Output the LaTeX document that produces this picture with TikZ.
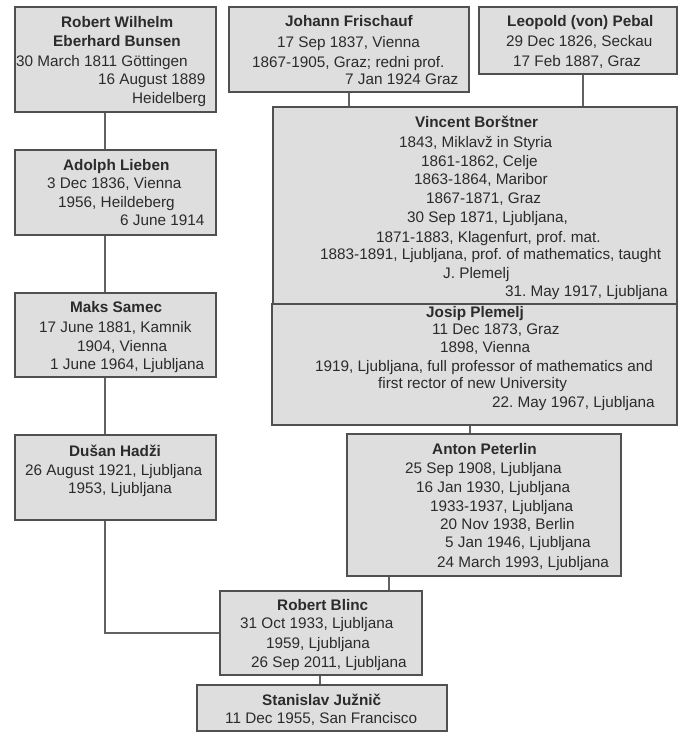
\documentclass[tikz,border=0pt]{standalone}
\usepackage{fontspec}
\setmainfont{Liberation Sans}
\frenchspacing
\definecolor{boxfill}{HTML}{DEDEDE}
\definecolor{boxline}{HTML}{505050}
\definecolor{connline}{HTML}{626262}
\definecolor{txtcol}{HTML}{2B2B2B}
\newcommand\tl[4]{\node[txt] (#1) at (#2,#3+5) {#4};}
\begin{document}
\begin{tikzpicture}[x=1pt,y=-1pt,
  box/.style={draw=boxline,fill=boxfill,line width=1.3pt,inner sep=0pt,rectangle},
  conn/.style={draw=connline,line width=1.1pt},
  txt/.style={inner sep=0pt,text=txtcol,font=\fontsize{15.3}{18}\selectfont\frenchspacing,anchor=base west}]
\useasboundingbox (0,0) rectangle (678,733);
% boxes
\node[box,minimum width=201pt,minimum height=105pt] (bunsen) at (115.5,59.5) {};
\node[box,minimum width=240pt,minimum height=85pt] (frisch) at (349,49.5) {};
\node[box,minimum width=198pt,minimum height=67pt] (pebal) at (578,40.5) {};
\node[box,minimum width=404pt,minimum height=197pt] (vb) at (475,205.5) {};
\node[box,minimum width=405pt,minimum height=121pt] (plem) at (474.5,364.5) {};
\node[box,minimum width=201pt,minimum height=85pt] (lieben) at (115.5,192.5) {};
\node[box,minimum width=201pt,minimum height=84pt] (samec) at (115.5,335) {};
\node[box,minimum width=201pt,minimum height=85pt] (dusan) at (115.5,477.5) {};
\node[box,minimum width=274pt,minimum height=142pt] (peter) at (484,505) {};
\node[box,minimum width=202pt,minimum height=84pt] (blinc) at (321,633) {};
\node[box,minimum width=250pt,minimum height=46pt] (juznic) at (322,708) {};
% connectors
\draw[conn] ([xshift=-10.5pt]bunsen.south) -- ([xshift=-10.5pt]lieben.north);
\draw[conn] ([xshift=-10.5pt]lieben.south) -- ([xshift=-10.5pt]samec.north);
\draw[conn] ([xshift=-10.5pt]samec.south) -- ([xshift=-10.5pt]dusan.north);
\draw[conn] ([xshift=-10.5pt]dusan.south) |- (blinc.west);
\draw[conn] (frisch.south) -- (frisch.south |- vb.north);
\draw[conn] ([xshift=5pt]pebal.south) -- ([xshift=5pt]pebal.south |- vb.north);
\draw[conn] ([xshift=-4.5pt]plem.south) -- ([xshift=-4.5pt]plem.south |- peter.north);
\draw[conn] ([xshift=-95pt]peter.south) -- ([xshift=-95pt]peter.south |- blinc.north);
\draw[conn] ([xshift=-1pt]blinc.south) -- ([xshift=-1pt]blinc.south |- juznic.north);
% Bunsen
\tl{bu1}{61}{23}{\textbf{Robert Wilhelm}}
\tl{bu2}{53}{42}{\textbf{Eberhard Bunsen}}
\tl{bu3}{16}{62}{30 March 1811 Göttingen}
\tl{bu4}{98}{80}{16 August 1889}
\tl{bu5}{132}{99}{Heidelberg}
% Frischauf
\tl{fr1}{285}{22}{\textbf{Johann Frischauf}}
\tl{fr2}{277}{43}{17 Sep 1837, Vienna}
\tl{fr3}{252}{63}{1867-1905, Graz; redni prof.}
\tl{fr4}{345}{80}{7 Jan 1924 Graz}
% Pebal
\tl{pe1}{507}{22}{\textbf{Leopold (von) Pebal}}
\tl{pe2}{506}{42}{29 Dec 1826, Seckau}
\tl{pe3}{513}{62}{17 Feb 1887, Graz}
% Borstner
\tl{vb1}{415}{123}{\textbf{Vincent Borštner}}
\tl{vb2}{399}{142}{1843, Miklavž in Styria}
\tl{vb3}{421}{161}{1861-1862, Celje}
\tl{vb4}{414}{179}{1863-1864, Maribor}
\tl{vb5}{426}{198}{1867-1871, Graz}
\tl{vb6}{407}{217}{30 Sep 1871, Ljubljana,}
\tl{vb7}{376}{237}{1871-1883, Klagenfurt, prof. mat.}
\tl{vb8}{320}{254}{1883-1891, Ljubljana, prof. of mathematics, taught}
\tl{vb9}{443}{273}{J. Plemelj}
\tl{vb10}{505}{291}{31. May 1917, Ljubljana}
% Plemelj
\tl{pl1}{426}{312}{\textbf{Josip Plemelj}}
\tl{pl2}{432}{329}{11 Dec 1873, Graz}
\tl{pl3}{440}{347}{1898, Vienna}
\tl{pl4}{315}{366}{1919, Ljubljana, full professor of mathematics and}
\tl{pl5}{378}{383}{first rector of new University}
\tl{pl6}{492}{402}{22. May 1967, Ljubljana}
% Lieben
\tl{li1}{63}{165}{\textbf{Adolph Lieben}}
\tl{li2}{47}{183}{3 Dec 1836, Vienna}
\tl{li3}{58}{202}{1956, Heildeberg}
\tl{li4}{120}{220}{6 June 1914}
% Samec
\tl{sa1}{70}{307}{\textbf{Maks Samec}}
\tl{sa2}{39}{327}{17 June 1881, Kamnik}
\tl{sa3}{77}{346}{1904, Vienna}
\tl{sa4}{50}{364}{1 June 1964, Ljubljana}
% Hadzi
\tl{du1}{69}{451}{\textbf{Dušan Hadži}}
\tl{du2}{25}{470}{26 August 1921, Ljubljana}
\tl{du3}{68}{488}{1953, Ljubljana}
% Peterlin
\tl{at1}{432}{449}{\textbf{Anton Peterlin}}
\tl{at2}{405}{468}{25 Sep 1908, Ljubljana}
\tl{at3}{416}{487}{16 Jan 1930, Ljubljana}
\tl{at4}{430}{506}{1933-1937, Ljubljana}
\tl{at5}{440}{524}{20 Nov 1938, Berlin}
\tl{at6}{445}{542}{5 Jan 1946, Ljubljana}
\tl{at7}{437}{562}{24 March 1993, Ljubljana}
% Blinc
\tl{bl1}{277}{605}{\textbf{Robert Blinc}}
\tl{bl2}{240}{623}{31 Oct 1933, Ljubljana}
\tl{bl3}{266}{643}{1959, Ljubljana}
\tl{bl4}{251}{662}{26 Sep 2011, Ljubljana}
% Juznic
\tl{ju1}{262}{700}{\textbf{Stanislav Južnič}}
\tl{ju2}{225}{718}{11 Dec 1955, San Francisco}
\end{tikzpicture}
\end{document}
